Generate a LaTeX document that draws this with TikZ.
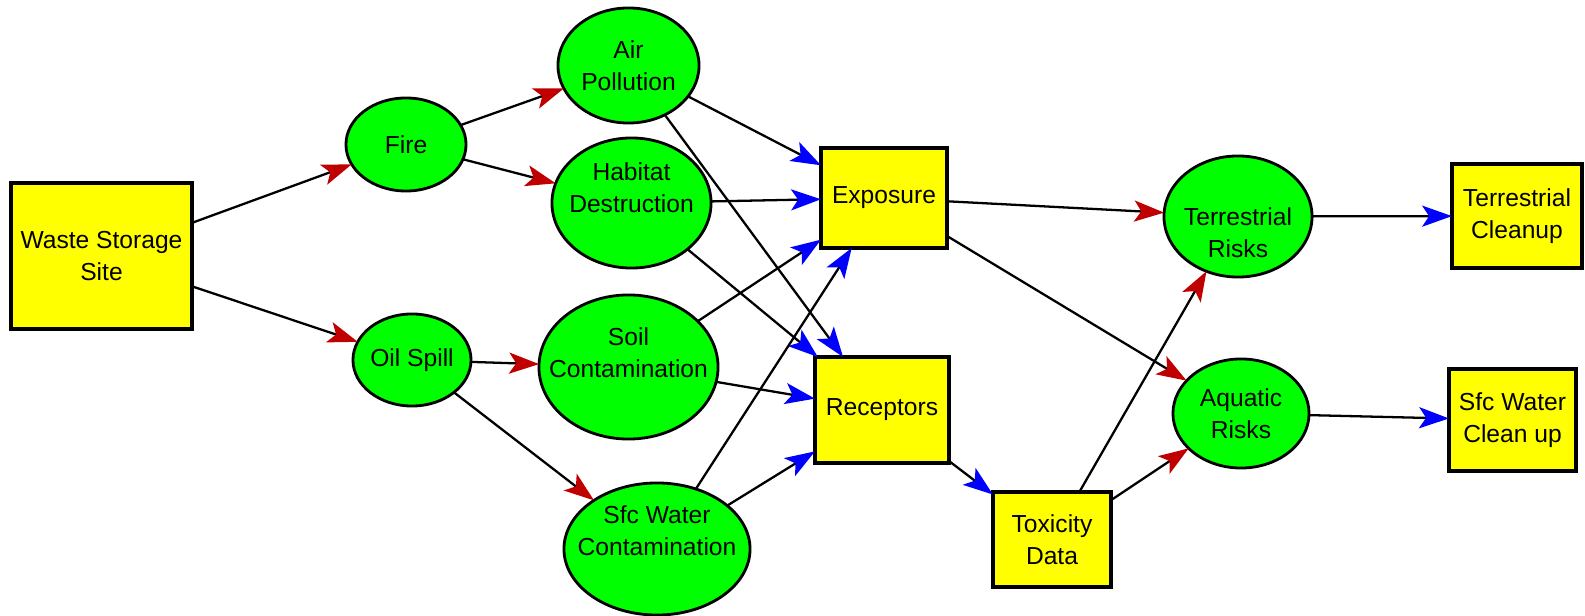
\documentclass[tikz,border=0pt]{standalone}
\usepackage{fontspec}
\setmainfont{Liberation Sans}
\usetikzlibrary{shapes.geometric,arrows.meta}
\definecolor{nodegreen}{RGB}{0,255,0}
\definecolor{nodeyellow}{RGB}{255,255,0}
\definecolor{tipred}{RGB}{192,0,0}
\definecolor{tipblue}{RGB}{0,0,255}
\tikzset{
  event/.style={ellipse, draw=black, line width=0.8pt, fill=nodegreen, inner sep=0pt, outer sep=0pt},
  datum/.style={rectangle, draw=black, line width=0.9pt, fill=nodeyellow, inner sep=0pt, outer sep=0pt},
  lbl/.style={align=center, font=\fontsize{7}{9.1}\selectfont, inner sep=0pt},
  link/.style={draw=black, line width=0.65pt},
  toevent/.style={link, -{Stealth[length=8.5pt,width=6pt,inset=2pt,color=tipred]}},
  todatum/.style={link, -{Stealth[length=8.5pt,width=6pt,inset=2pt,color=tipblue]}},
}
\begin{document}
\begin{tikzpicture}[x=0.01cm, y=-0.01cm]
\useasboundingbox (0,0) rectangle (1585,616);

% sources and hazards
\node[datum, minimum width=1.81cm, minimum height=1.46cm] (waste) at (101.5,256) {};
\node[event, minimum width=1.20cm, minimum height=0.93cm] (fire) at (406,144.5) {};
\node[event, minimum width=1.18cm, minimum height=0.92cm] (oil) at (412,360) {};

% effects
\node[event, minimum width=1.41cm, minimum height=1.15cm] (air) at (628.5,65.5) {};
\node[event, minimum width=1.59cm, minimum height=1.30cm] (habitat) at (631.5,203) {};
\node[event, minimum width=1.79cm, minimum height=1.44cm] (soil) at (628.5,367) {};
\node[event, minimum width=1.86cm, minimum height=1.32cm] (sfc) at (657,549) {};

% assessment data
\node[datum, minimum width=1.26cm, minimum height=1.00cm] (exposure) at (884,198) {};
\node[datum, minimum width=1.34cm, minimum height=1.06cm] (receptors) at (882,410) {};
\node[datum, minimum width=1.18cm, minimum height=0.95cm] (toxicity) at (1052,539.5) {};

% risks and responses
\node[event, minimum width=1.48cm, minimum height=1.21cm] (terr) at (1238,216.5) {};
\node[event, minimum width=1.36cm, minimum height=1.09cm] (aquatic) at (1241,413.5) {};
\node[datum, minimum width=1.30cm, minimum height=1.04cm] (tclean) at (1517,216) {};
\node[datum, minimum width=1.27cm, minimum height=1.02cm] (sclean) at (1512.5,420) {};

% labels
\node[lbl] (waste-t) at (waste.center) {Waste Storage\\Site};
\node[lbl] (fire-t) at (fire.center) {Fire};
\node[lbl] (oil-t) at (oil.center) {Oil Spill};
\node[lbl] (air-t) at (air.center) {Air\\Pollution};
\node[lbl] (habitat-t) at ([yshift=0.15cm]habitat.center) {Habitat\\Destruction};
\node[lbl] (soil-t) at ([yshift=0.14cm]soil.center) {Soil\\Contamination};
\node[lbl] (sfc-t) at ([yshift=0.18cm]sfc.center) {Sfc Water\\Contamination};
\node[lbl] (exposure-t) at (exposure.center) {Exposure};
\node[lbl] (receptors-t) at (receptors.center) {Receptors};
\node[lbl] (toxicity-t) at (toxicity.center) {Toxicity\\Data};
\node[lbl] (terr-t) at ([yshift=-0.16cm]terr.center) {Terrestrial\\Risks};
\node[lbl] (aquatic-t) at (aquatic.center) {Aquatic\\Risks};
\node[lbl] (tclean-t) at (tclean.center) {Terrestrial\\Cleanup};
\node[lbl] (sclean-t) at (sclean.center) {Sfc Water\\Clean up};

% influence links
\draw[toevent] (waste) -- (fire);
\draw[toevent] (waste) -- (oil);
\draw[toevent] (fire) -- (air);
\draw[toevent] (fire) -- (habitat);
\draw[toevent] (oil) -- (soil);
\draw[toevent] (oil) -- (sfc);

\draw[todatum] (air) -- (exposure);
\draw[todatum] (air) -- (receptors);
\draw[todatum] (habitat) -- (exposure);
\draw[todatum] (habitat) -- (receptors);
\draw[todatum] (soil) -- (exposure);
\draw[todatum] (soil) -- (receptors);
\draw[todatum] (sfc) -- (exposure);
\draw[todatum] (sfc) -- (receptors);

\draw[toevent] (exposure) -- (terr);
\draw[toevent] (exposure) -- (aquatic);
\draw[todatum] (receptors) -- (toxicity);
\draw[toevent] (toxicity) -- (terr);
\draw[toevent] (toxicity) -- (aquatic);

\draw[todatum] (terr) -- (tclean);
\draw[todatum] (aquatic) -- (sclean);
\end{tikzpicture}
\end{document}
